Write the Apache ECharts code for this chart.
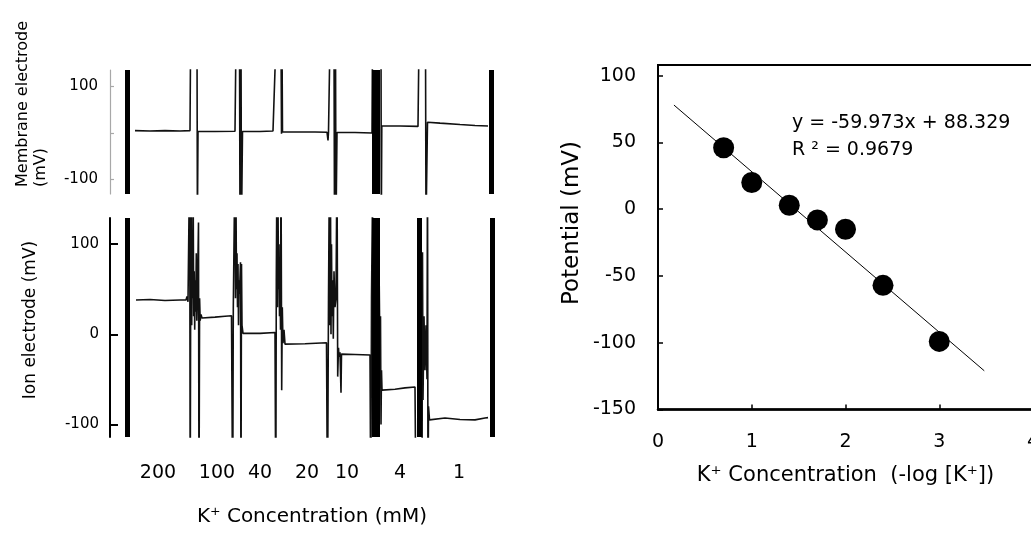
<!DOCTYPE html>
<html><head><meta charset="utf-8">
<script src="https://cdn.jsdelivr.net/npm/echarts@6/dist/echarts.min.js"></script>
<style>html,body{margin:0;padding:0;background:#fff}#c{width:1031px;height:536px}</style>
</head><body><div id="c"></div>
<script>
const FONT = 'DejaVu Sans';

// ---- Left panels: chart-recorder traces (time in arbitrary units, potential in mV)
const membraneTrace = [[25,5],[40,4],[55,5],[70,4],[80,5],[80.6,200],[87,200],[87.4,-200],[88,3],[105,3],[125,3.5],[126,200],[129.5,200],[130,-200],[131,200],[131.5,-200],[132.5,3],[150,3],[163,4],[165,7],[166,200],[171,200],[171.5,-2],[172,200],[172.5,2],[190,2],[205,2],[217,1.5],[218,-16],[218.5,2],[220,200],[224,200],[224.5,-200],[225.5,200],[226,-200],[227,1],[245,1],[262,0],[262.5,200],[271,200],[271.3,-200],[271.8,15],[290,15],[308,14],[309,200],[315.5,200],[316,-200],[317.5,23],[330,21],[350,18],[365,16],[378,15]];

const ionTrace = [[26,38],[40,38.5],[55,37.5],[70,38],[76,38],[77,42],[78,36],[79,38],
[79.7,200],[80.2,-200],[80.7,60],[81.2,200],[81.7,10],[82.2,90],[82.7,40],[83.2,150],[83.7,20],[84.2,70],[84.7,5],[85.2,60],[85.7,25],[86.3,90],[86.8,15],[87.5,50],[88.5,124],[89,-200],[89.6,40],[90.2,15],[91,22],[92,18],
[105,19],[115,20],[121.5,20.5],
[122.3,20],[122.7,-200],[123.3,30],[125,200],[125.5,40],[126,150],[126.5,50],[127,90],[127.5,30],[128,78],[128.5,10],[129,60],[129.5,45],[130.5,80],[131,-200],[131.5,78],[132,10],[133,1],
[150,1],[165,2],
[165.5,2],[165.8,-200],[166.3,60],[167,200],[167.5,30],[168,150],[168.5,50],[169,100],[169.5,20],[170,70],[170.5,5],[171,200],[171.7,-62],[172.3,30],[173,-10],[174,5],[175,-11],
[195,-10.5],[216.5,-9.5],
[217,-9],[217.5,-200],[218.5,40],[219.5,200],[220,10],[220.5,150],[221,0],[221.5,100],[222,20],[222.7,60],[223.3,-5],[224,70],[225,30],[226,40],[227,200],[227.7,-47],[228.5,-15],[229,-25],[230,-20],[231,-65],[231.5,-22],
[245,-22.5],[260,-23],
[260.5,-23],[260.8,-200],[261.5,40],[262.5,150],[263,-100],[269,80],[270,-30],[270.5,20],[271,-100],[271.5,-40],[272,-62],
[285,-61],[295,-59.5],[305,-58.5],
[305.5,-58],[306,-200],[312,-200],[312.5,91],[313,-73],[314,20],[315,-40],[316,10],[317,-50],[317.5,200],[318,-200],[318.5,-80],[319.5,-95],[320,-93.5],
[335,-93],[350,-94.5],[365,-95],[375,-93],[378,-92.5]];

const membraneMarks = [17.5, 264.5, 267.5, 381.5];
const ionMarks = [17.5, 264.5, 267.5, 309, 382];
const concLabels = ['200','100','40','20','10','4','1'];
const concLabelTimes = [48, 107, 150, 197, 237, 290, 349];
const leftYTicks = [-100, 0, 100];
const membraneYLabels = [-100, 100];

// ---- Right panel: calibration
const negLogK = [0.7, 1.0, 1.4, 1.7, 2.0, 2.4, 3.0];
const potential = [46, 20, 3, -8, -15, -57, -99];
const fitX = [0.17, 3.48];
const fitY = [78, -121];
const rightYTicks = [-150, -100, -50, 0, 50, 100];
const eqText = 'y = -59.973x + 88.329';
const r2Text = 'R ² = 0.9679';

const chart = echarts.init(document.getElementById('c'), null, {renderer: 'canvas'});

function marksSeries(marks, idx) {
  return {
    type: 'line', xAxisIndex: idx, yAxisIndex: idx, data: [], silent: true,
    markLine: {
      symbol: 'none', silent: true, animation: false,
      label: {show: false},
      lineStyle: {color: '#000', width: 5, type: 'solid'},
      data: marks.map(t => ({xAxis: t}))
    }
  };
}

const option = {
  animation: false,
  backgroundColor: '#fff',
  textStyle: {fontFamily: FONT, color: '#000'},
  grid: [
    {left: 110, top: 70, width: 390, height: 124, outerBoundsMode: 'none', containLabel: false},
    {left: 110, top: 218, width: 390, height: 219, outerBoundsMode: 'none', containLabel: false},
    {left: 658, top: 65, width: 375, height: 344.5, outerBoundsMode: 'none', containLabel: false,
      show: true, borderColor: '#000', borderWidth: 2, backgroundColor: 'transparent'}
  ],
  xAxis: [
    {gridIndex: 0, type: 'value', min: 0, max: 390, show: false},
    {gridIndex: 1, type: 'value', min: 0, max: 390,
      axisLine: {show: false, onZero: false}, axisTick: {show: false}, splitLine: {show: false},
      axisLabel: {customValues: concLabelTimes, formatter: v => concLabels[concLabelTimes.indexOf(v)],
        fontFamily: FONT, fontSize: 19, color: '#000', margin: 27},
      name: 'K⁺ Concentration (mM)', nameLocation: 'middle', nameGap: 70,
      nameTextStyle: {fontFamily: FONT, fontSize: 20, color: '#000', padding: [0, 0, 0, 14]}
    },
    {gridIndex: 2, type: 'value', min: 0, max: 4, interval: 1,
      axisLine: {onZero: false, lineStyle: {color: '#000', width: 2.5}},
      axisTick: {inside: true, length: 5, lineStyle: {color: '#000', width: 1.5}},
      splitLine: {show: false},
      axisLabel: {fontFamily: FONT, fontSize: 19, color: '#000', margin: 23},
      name: 'K⁺ Concentration  (-log [K⁺])', nameLocation: 'middle', nameGap: 56,
      nameTextStyle: {fontFamily: FONT, fontSize: 21, color: '#000'}
    }
  ],
  yAxis: [
    {gridIndex: 0, type: 'value', min: -131, max: 135,
      axisLine: {show: true, onZero: false, lineStyle: {color: '#a8a8a8', width: 1.2}},
      axisTick: {show: true, inside: true, length: 4, customValues: leftYTicks, lineStyle: {color: '#a8a8a8', width: 1.2}},
      splitLine: {show: false},
      axisLabel: {customValues: membraneYLabels, fontFamily: FONT, fontSize: 15, color: '#000', margin: 12}
    },
    {gridIndex: 1, type: 'value', min: -114, max: 129,
      axisLine: {show: true, onZero: false, lineStyle: {color: '#000', width: 2}},
      axisTick: {show: true, inside: true, length: 8, customValues: leftYTicks, lineStyle: {color: '#000', width: 2}},
      splitLine: {show: false},
      axisLabel: {customValues: leftYTicks, fontFamily: FONT, fontSize: 15, color: '#000', margin: 11}
    },
    {gridIndex: 2, type: 'value', min: -150, max: 108,
      axisLine: {show: true, onZero: false, lineStyle: {color: '#000', width: 2}},
      axisTick: {show: true, inside: true, length: 5, customValues: rightYTicks, lineStyle: {color: '#000', width: 1.5}},
      splitLine: {show: false},
      axisLabel: {customValues: rightYTicks, fontFamily: FONT, fontSize: 19, color: '#000', margin: 22}
    }
  ],
  series: [
    {type: 'line', xAxisIndex: 0, yAxisIndex: 0, data: membraneTrace, symbol: 'none', clip: true,
      lineStyle: {color: '#111', width: 1.6}},
    {type: 'line', xAxisIndex: 1, yAxisIndex: 1, data: ionTrace, symbol: 'none', clip: true,
      lineStyle: {color: '#111', width: 1.6}},
    marksSeries(membraneMarks, 0),
    marksSeries(ionMarks, 1),
    {type: 'line', xAxisIndex: 2, yAxisIndex: 2, data: fitX.map((x, i) => [x, fitY[i]]), symbol: 'none',
      lineStyle: {color: '#000', width: 1}},
    {type: 'scatter', xAxisIndex: 2, yAxisIndex: 2, data: negLogK.map((x, i) => [x, potential[i]]),
      symbolSize: 21, itemStyle: {color: '#000', opacity: 1}}
  ],
  graphic: [
    {type: 'text', x: 32, y: 187, rotation: Math.PI / 2,
      style: {text: 'Membrane electrode\n(mV)', font: '16px "DejaVu Sans"', fill: '#000',
        textAlign: 'left', textVerticalAlign: 'middle', lineHeight: 18}},
    {type: 'text', x: 31, y: 320, rotation: Math.PI / 2,
      style: {text: 'Ion electrode (mV)', font: '17px "DejaVu Sans"', fill: '#000',
        textAlign: 'center', textVerticalAlign: 'middle'}},
    {type: 'text', x: 572, y: 223, rotation: Math.PI / 2,
      style: {text: 'Potential (mV)', font: '23px "DejaVu Sans"', fill: '#000',
        textAlign: 'center', textVerticalAlign: 'middle'}},
    {type: 'text', x: 792, y: 123,
      style: {text: eqText, font: '19px "DejaVu Sans"', fill: '#000', textAlign: 'left', textVerticalAlign: 'middle'}},
    {type: 'text', x: 792, y: 150,
      style: {text: r2Text, font: '19px "DejaVu Sans"', fill: '#000', textAlign: 'left', textVerticalAlign: 'middle'}}
  ]
};
chart.setOption(option);
</script></body></html>
